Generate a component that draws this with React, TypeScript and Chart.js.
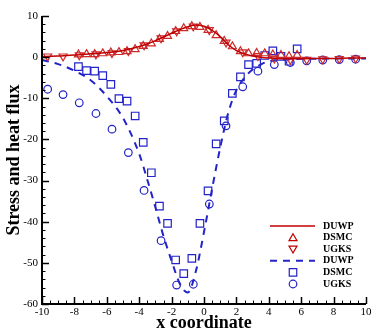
import React, { useEffect, useRef } from 'react';
import { Chart, registerables } from 'chart.js';
Chart.register(...registerables);

const RED = '#c00000';
const BLUE = '#2323c8';

// DUWP stress curve
const redCurveX = [-10, -9, -8, -7, -6, -5, -4, -3.5, -3, -2.5, -2, -1.5, -1, -0.5, 0, 0.5, 1, 1.5, 2, 2.5, 3, 3.5, 4, 5, 6, 7, 8, 9, 10];
const redCurveY = [0.1, 0.3, 0.5, 0.8, 1.1, 1.6, 2.6, 3.2, 4.0, 4.9, 5.8, 6.7, 7.4, 7.8, 7.5, 6.5, 5.0, 3.0, 1.6, 0.8, 0.3, 0.0, -0.2, -0.4, -0.4, -0.3, -0.3, -0.2, -0.2];

// DSMC stress (triangles)
const redDsmcX = [-7.75, -7.25, -6.75, -6.25, -5.75, -5.25, -4.75, -4.25, -3.75, -3.25, -2.75, -2.25, -1.75, -1.25, -0.75, -0.25, 0.25, 0.75, 1.25, 1.75, 2.25, 2.75, 3.25, 3.75, 4.25, 4.75, 5.25, 5.75];
const redDsmcY = [0.6, 0.7, 0.7, 0.9, 1.1, 1.2, 1.4, 1.9, 2.7, 3.3, 4.4, 5.1, 6.3, 7.0, 7.5, 7.3, 6.6, 5.3, 3.9, 2.6, 1.4, 0.9, 1.0, 0.9, 0.6, 0.5, 0.2, 0.5];

// UGKS stress (inverted triangles)
const redUgksX = [-9.65, -8.7, -7.7, -6.67, -5.68, -4.67, -3.7, -2.65, -1.69, -0.66, 0.33, 1.36, 2.39, 3.33, 4.34, 5.33, 6.34, 7.33, 8.35, 9.36];
const redUgksY = [0.2, 0.2, 0.5, 0.7, 1.0, 1.5, 2.9, 4.6, 6.3, 7.5, 6.6, 3.6, 1.2, 0.3, -0.3, -0.6, -0.6, -0.5, -0.4, -0.3];

// DUWP heat flux curve
const blueCurveX = [-10, -9, -8, -7, -6, -5, -4, -3.5, -3, -2.5, -2, -1.5, -1, -0.5, 0, 0.5, 1, 1.5, 2, 2.5, 3, 3.5, 4, 5, 6, 7, 8, 9, 10];
const blueCurveY = [-0.7, -1.7, -3.3, -5.6, -9.5, -14.8, -23.5, -29.8, -36.5, -43.5, -49.5, -55.0, -57.2, -52.0, -42.5, -32.0, -22.0, -13.5, -8.0, -5.0, -3.0, -1.8, -1.0, -0.6, -0.4, -0.4, -0.3, -0.3, -0.3];

// DSMC heat flux (squares)
const blueDsmcX = redDsmcX;
const blueDsmcY = [-2.3, -3.3, -3.4, -4.5, -6.6, -10.1, -10.7, -14.3, -20.7, -28.1, -36.2, -40.4, -49.3, -52.6, -48.9, -40.4, -32.5, -21.1, -15.5, -8.8, -4.8, -1.8, -1.5, 0.4, 1.5, 0.2, -1.0, 2.0];

// UGKS heat flux (circles)
const blueUgksX = redUgksX;
const blueUgksY = [-7.8, -9.1, -11.1, -13.7, -17.5, -23.2, -32.4, -44.6, -55.4, -55.2, -35.7, -16.7, -7.2, -3.4, -1.8, -1.3, -0.9, -0.7, -0.6, -0.5];

const xTicks = [-10, -8, -6, -4, -2, 0, 2, 4, 6, 8, 10];
const yTicks = [-60, -50, -40, -30, -20, -10, 0, 10];

const legendLabels = ['DUWP', 'DSMC', 'UGKS', 'DUWP', 'DSMC', 'UGKS'];

const pts = (xs: number[], ys: number[]) => xs.map((x, i) => ({ x, y: ys[i] }));

function drawMarker(ctx: CanvasRenderingContext2D, kind: string, x: number, y: number, r: number) {
  ctx.beginPath();
  if (kind === 'circle') {
    ctx.arc(x, y, r, 0, Math.PI * 2);
  } else if (kind === 'rect') {
    const s = r * Math.SQRT1_2;
    ctx.rect(x - s, y - s, 2 * s, 2 * s);
  } else {
    const rot = kind === 'tri-down' ? Math.PI : 0;
    let a = rot;
    for (let i = 0; i < 3; i++) {
      const px = x + Math.sin(a) * r;
      const py = y - Math.cos(a) * r;
      if (i === 0) ctx.moveTo(px, py); else ctx.lineTo(px, py);
      a += (2 * Math.PI) / 3;
    }
    ctx.closePath();
  }
  ctx.stroke();
}

const axesPlugin = {
  id: 'axesPlugin',
  afterDraw(chart: any) {
    const { ctx, chartArea } = chart;
    const xs = chart.scales.x;
    const ys = chart.scales.y;
    ctx.save();
    ctx.strokeStyle = '#000';
    ctx.lineWidth = 1;
    // minor + major ticks x
    for (let v = -10; v <= 10.001; v += 0.5) {
      const px = Math.round(xs.getPixelForValue(v)) + 0.5;
      const major = Math.abs(v / 2 - Math.round(v / 2)) < 1e-6;
      ctx.lineWidth = major ? 1.5 : 1;
      ctx.beginPath();
      ctx.moveTo(px, chartArea.bottom);
      ctx.lineTo(px, chartArea.bottom - (major ? 7 : 3.5));
      ctx.stroke();
    }
    for (let v = -60; v <= 10.001; v += 2) {
      const py = Math.round(ys.getPixelForValue(v)) + 0.5;
      const major = Math.abs(v / 10 - Math.round(v / 10)) < 1e-6;
      ctx.lineWidth = major ? 1.5 : 1;
      ctx.beginPath();
      ctx.moveTo(chartArea.left, py);
      ctx.lineTo(chartArea.left + (major ? 7 : 3.5), py);
      ctx.stroke();
    }
    ctx.lineWidth = 2;
    ctx.beginPath();
    ctx.moveTo(chartArea.left, chartArea.top);
    ctx.lineTo(chartArea.left, chartArea.bottom);
    ctx.lineTo(chartArea.right, chartArea.bottom);
    ctx.stroke();

    // legend
    const items = [
      { type: 'line', color: RED, dash: [] as number[] },
      { type: 'tri-up', color: RED },
      { type: 'tri-down', color: RED },
      { type: 'line', color: BLUE, dash: [7, 6] },
      { type: 'rect', color: BLUE },
      { type: 'circle', color: BLUE },
    ];
    const x0 = 270, x1 = 315, tx = 323;
    const y0 = 226, dy = 11.6;
    ctx.font = 'bold 10px "Liberation Serif", "Times New Roman", serif';
    ctx.textBaseline = 'middle';
    ctx.textAlign = 'left';
    items.forEach((it: any, i) => {
      const y = y0 + i * dy;
      ctx.strokeStyle = it.color;
      if (it.type === 'line') {
        ctx.lineWidth = it.color === RED ? 1.5 : 2;
        ctx.setLineDash(it.dash);
        ctx.beginPath();
        ctx.moveTo(x0, y);
        ctx.lineTo(x1, y);
        ctx.stroke();
        ctx.setLineDash([]);
      } else {
        ctx.lineWidth = 1.2;
        const r = it.type === 'circle' ? 3.8 : it.type === 'rect' ? 5.3 : 4.6;
        drawMarker(ctx, it.type, (x0 + x1) / 2 + 0.5, y + (it.type === 'tri-up' ? 0.8 : it.type === 'tri-down' ? -0.8 : 0), r);
      }
      ctx.fillStyle = '#000';
      ctx.fillText(legendLabels[i], tx, y);
    });
    ctx.restore();
  },
};

export default function App() {
  const ref = useRef<HTMLCanvasElement>(null);
  useEffect(() => {
    const chart = new Chart(ref.current as HTMLCanvasElement, {
      type: 'scatter',
      data: {
        datasets: [
          {
            label: 'DUWP stress',
            data: pts(redCurveX, redCurveY),
            showLine: true,
            borderColor: RED,
            borderWidth: 1.5,
            pointRadius: 0,
            cubicInterpolationMode: 'monotone',
            order: 2,
          } as any,
          {
            label: 'DSMC stress',
            data: pts(redDsmcX, redDsmcY),
            pointStyle: 'triangle',
            pointRadius: 4.6,
            borderColor: '#cc2a2a',
            backgroundColor: 'transparent',
            pointBorderWidth: 1.2,
            order: 2,
          },
          {
            label: 'UGKS stress',
            data: pts(redUgksX, redUgksY),
            pointStyle: 'triangle',
            rotation: 180,
            pointRadius: 4.6,
            borderColor: '#cc2a2a',
            backgroundColor: 'transparent',
            pointBorderWidth: 1.2,
            order: 2,
          } as any,
          {
            label: 'DUWP heat flux',
            data: pts(blueCurveX, blueCurveY),
            showLine: true,
            borderColor: BLUE,
            borderWidth: 2,
            borderDash: [7, 6],
            pointRadius: 0,
            cubicInterpolationMode: 'monotone',
            order: 3,
          } as any,
          {
            label: 'DSMC heat flux',
            data: pts(blueDsmcX, blueDsmcY),
            pointStyle: 'rect',
            pointRadius: 5.3,
            borderColor: BLUE,
            backgroundColor: 'transparent',
            pointBorderWidth: 1.2,
            order: 3,
          },
          {
            label: 'UGKS heat flux',
            data: pts(blueUgksX, blueUgksY),
            pointStyle: 'circle',
            pointRadius: 3.8,
            borderColor: BLUE,
            backgroundColor: 'transparent',
            pointBorderWidth: 1.2,
            order: 3,
          },
        ],
      },
      options: {
        responsive: false,
        animation: false,
        layout: { padding: { top: 16, right: 8, left: 0, bottom: 0 } },
        plugins: { legend: { display: false }, tooltip: { enabled: false } },
        scales: {
          x: {
            type: 'linear',
            min: -10,
            max: 10,
            grid: { display: false, drawTicks: false },
            border: { display: false },
            afterFit: (s: any) => { s.height = 28; },
            afterBuildTicks: (s: any) => { s.ticks = xTicks.map((v) => ({ value: v })); },
            ticks: {
              autoSkip: false,
              maxRotation: 0,
              padding: 2,
              color: '#000',
              font: { family: '"Liberation Serif", "Times New Roman", serif', size: 11 },
            },
            title: {
              display: true,
              text: 'x coordinate',
              color: '#000',
              padding: 0,
              font: { family: '"Liberation Serif", "Times New Roman", serif', size: 18, weight: 'bold', lineHeight: 1 },
            },
          },
          y: {
            type: 'linear',
            min: -60,
            max: 10,
            grid: { display: false, drawTicks: false },
            border: { display: false },
            afterFit: (s: any) => { s.width = 42; },
            afterBuildTicks: (s: any) => { s.ticks = yTicks.map((v) => ({ value: v })); },
            ticks: {
              autoSkip: false,
              padding: 4,
              color: '#000',
              font: { family: '"Liberation Serif", "Times New Roman", serif', size: 11 },
            },
            title: {
              display: true,
              text: 'Stress and heat flux',
              color: '#000',
              padding: { top: 5, bottom: 0 },
              font: { family: '"Liberation Serif", "Times New Roman", serif', size: 18, weight: 'bold', lineHeight: 1 },
            },
          },
        },
      },
      plugins: [axesPlugin],
    } as any);
    return () => chart.destroy();
  }, []);
  return (
    <div style={{ position: 'absolute', left: 0, top: 0, width: 374, height: 332, background: '#fff' }}>
      <canvas ref={ref} width={374} height={332} style={{ display: 'block' }} />
    </div>
  );
}
